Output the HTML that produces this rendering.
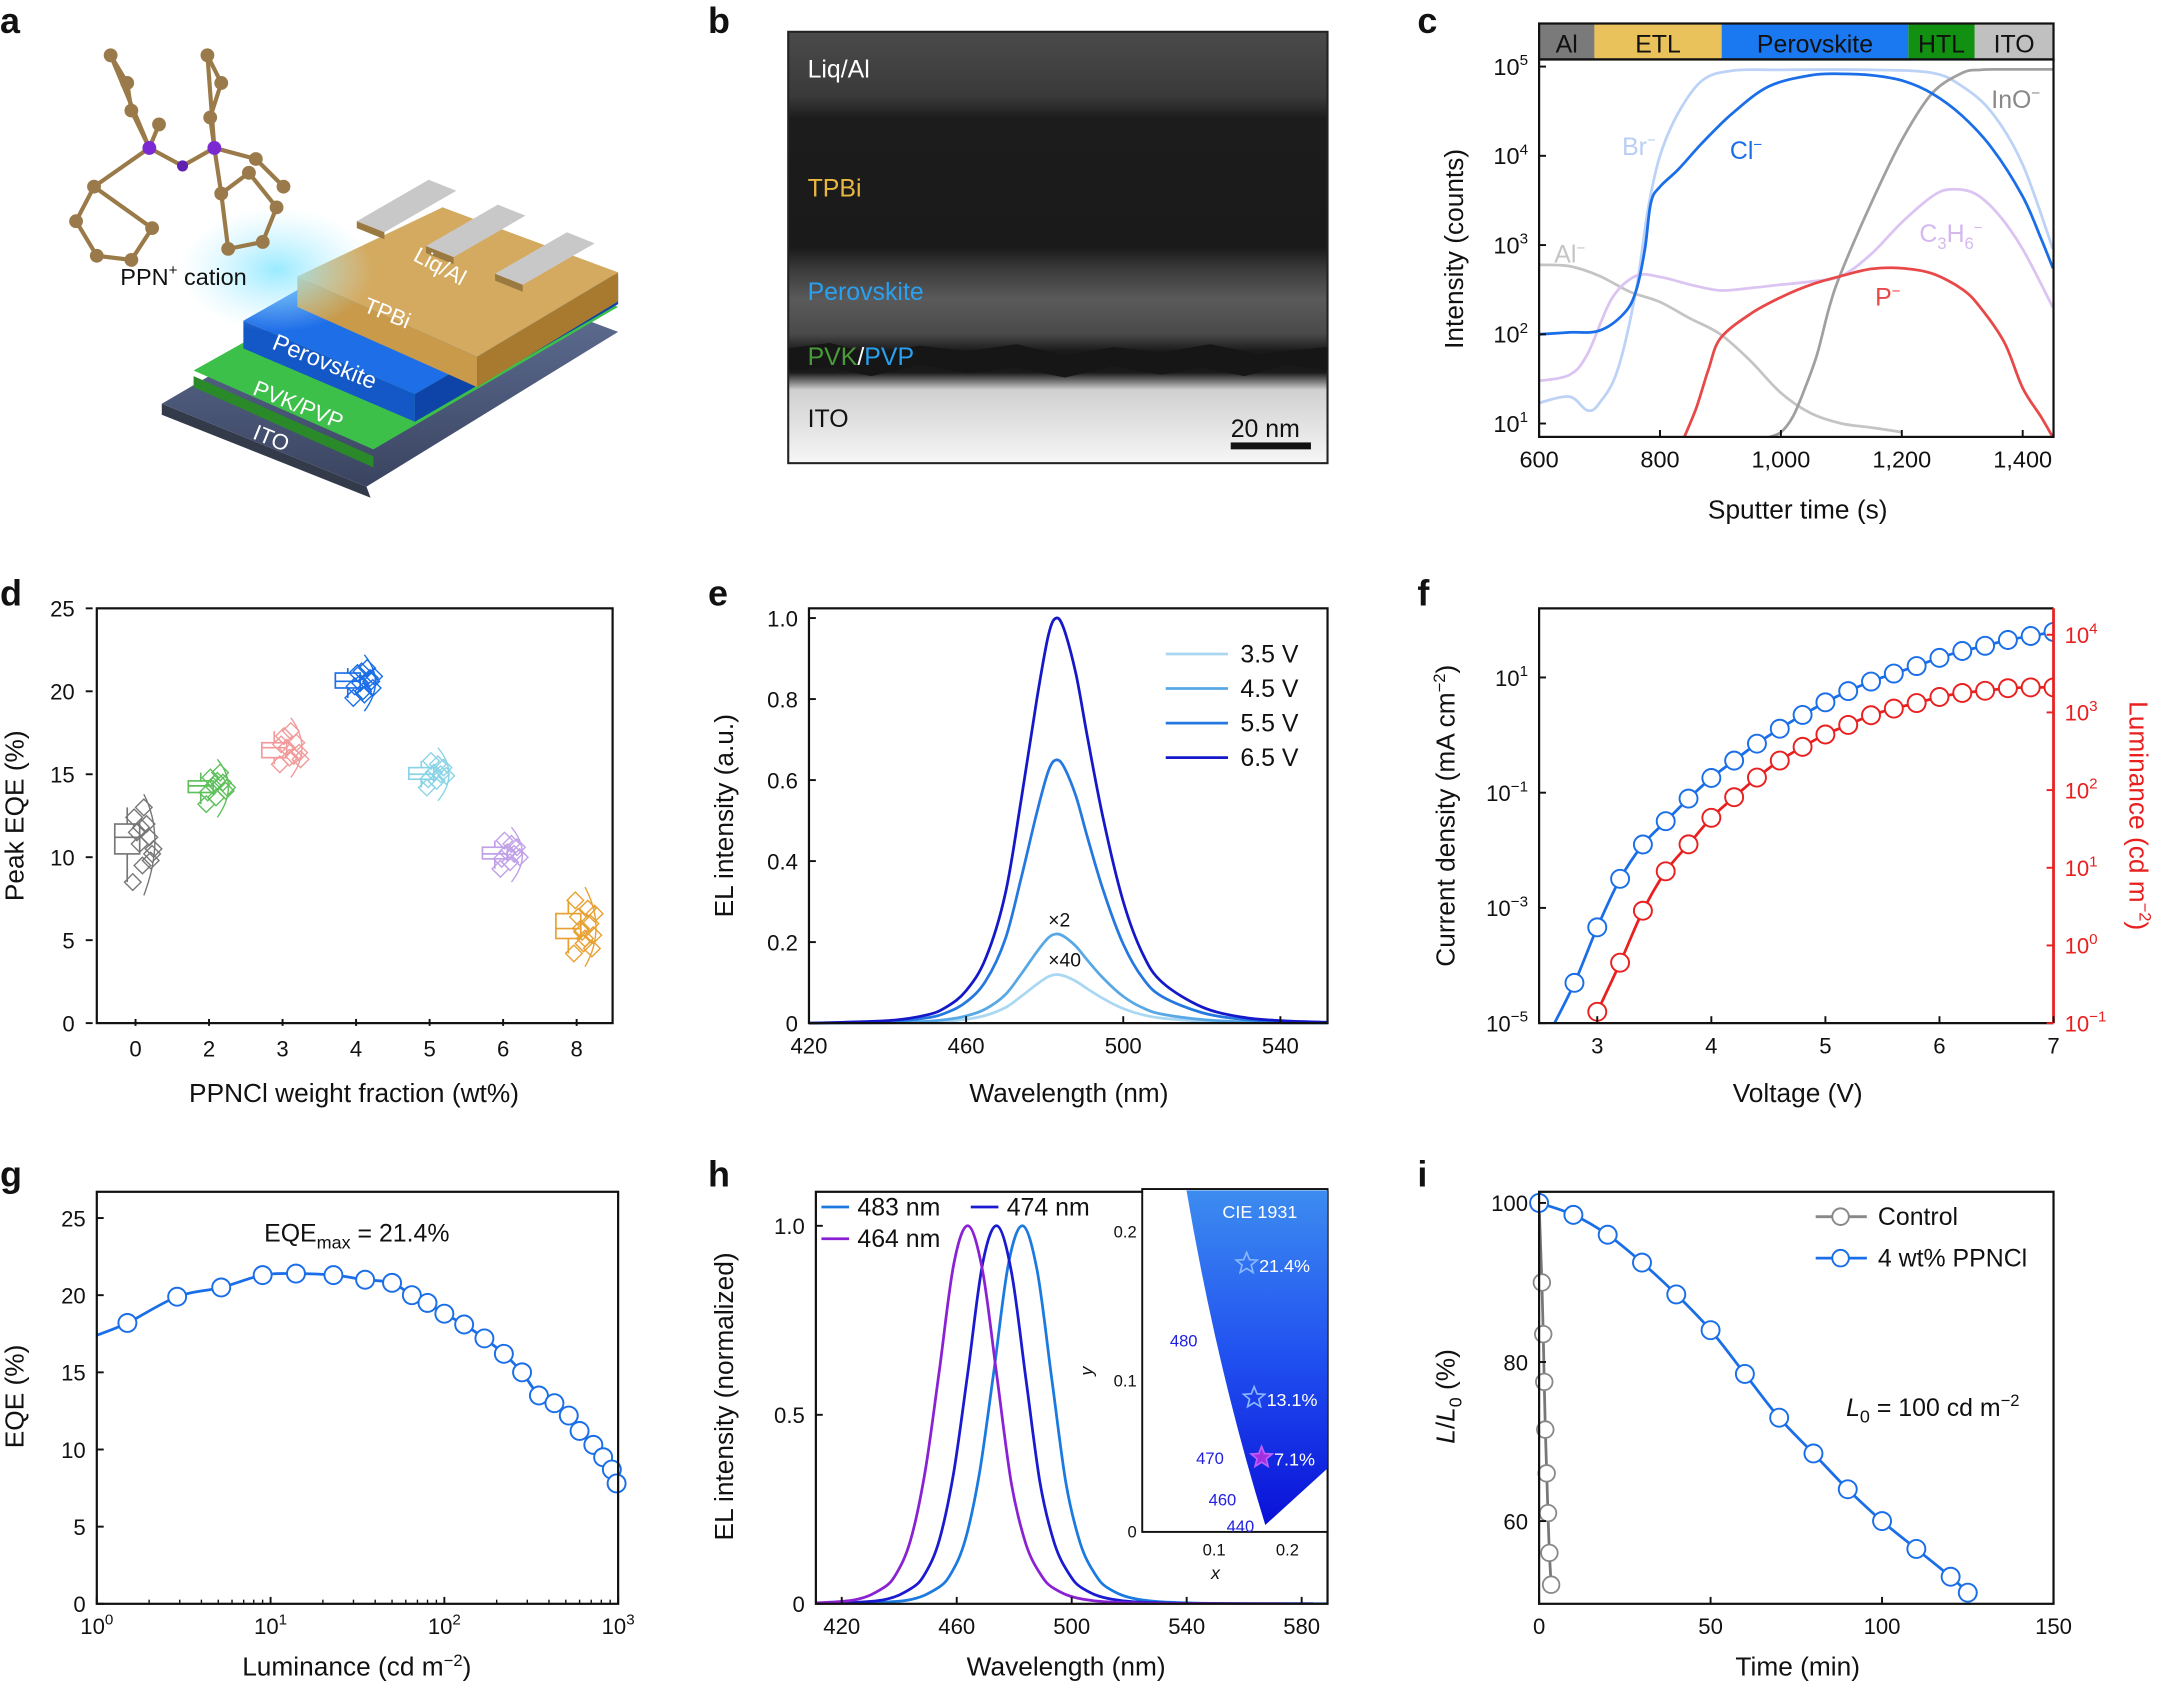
<!DOCTYPE html>
<html><head><meta charset="utf-8"><style>
html,body{margin:0;padding:0;background:#fff}
svg{display:block}
text{font-family:"Liberation Sans",sans-serif}
</style></head><body>
<svg id="fig" xmlns="http://www.w3.org/2000/svg" width="2160" height="1684" viewBox="0 0 1562 1218" preserveAspectRatio="none">
<defs>
<linearGradient id="itoG" x1="0" y1="0" x2="0" y2="1"><stop offset="0" stop-color="#6878a0"/><stop offset="1" stop-color="#3a4460"/></linearGradient>
<linearGradient id="temG" x1="0" y1="0" x2="0" y2="1">
<stop offset="0" stop-color="#4a4a4a"/><stop offset="0.15" stop-color="#3a3a3a"/><stop offset="0.2" stop-color="#1c1c1c"/><stop offset="0.5" stop-color="#1a1a1a"/><stop offset="0.55" stop-color="#3a3a3a"/><stop offset="0.62" stop-color="#5a5a5a"/><stop offset="0.7" stop-color="#4a4a4a"/><stop offset="0.74" stop-color="#1a1a1a"/><stop offset="0.79" stop-color="#1a1a1a"/><stop offset="0.83" stop-color="#d0d0d0"/><stop offset="1" stop-color="#f6f6f6"/></linearGradient>
<linearGradient id="cieG" x1="0" y1="0" x2="0" y2="1"><stop offset="0" stop-color="#3d8cf0"/><stop offset="0.5" stop-color="#2050f0"/><stop offset="1" stop-color="#0a10d8"/></linearGradient>
<radialGradient id="glow" cx="0.5" cy="0.5" r="0.5"><stop offset="0" stop-color="#8ee8ff" stop-opacity="0.9"/><stop offset="1" stop-color="#bff0ff" stop-opacity="0"/></radialGradient>
</defs>
</svg>
<script>
const NS='http://www.w3.org/2000/svg';
const svg=document.getElementById('fig');
function mk(tag,a,p){const e=document.createElementNS(NS,tag);for(const k in a)e.setAttribute(k,a[k]);(p||svg).appendChild(e);return e;}
function nm(e,n,i){


return e;}
function T(x,y,s,o,name){o=o||{};const e=mk('text',Object.assign({x:x,y:y,'font-size':16,fill:'#111'},o));e.innerHTML=s;nm(e,name||'label');return e;}
function lin(d0,d1,r0,r1){return v=>r0+(v-d0)/(d1-d0)*(r1-r0);}
function lg(d0,d1,r0,r1){return v=>r0+(Math.log10(v)-Math.log10(d0))/(Math.log10(d1)-Math.log10(d0))*(r1-r0);}
function frame(x0,y0,x1,y1,name){const r=mk('rect',{x:x0,y:y0,width:x1-x0,height:y1-y0,fill:'none',stroke:'#111','stroke-width':1.6});nm(r,name);}
function xt(sx,vals,labs,y,name,fs){vals.forEach((v,i)=>{const l=mk('line',{x1:sx(v),x2:sx(v),y1:y,y2:y-5,stroke:'#111','stroke-width':1.4});nm(l,name+'-tick');T(sx(v),y+22,labs[i],{'text-anchor':'middle','font-size':fs||16},name+'-label');});}
function yt(sy,vals,labs,x,name,fs,right){vals.forEach((v,i)=>{const l=mk('line',{x1:x,x2:right?x-5:x+5,y1:sy(v),y2:sy(v),stroke:'#111','stroke-width':1.4});nm(l,name+'-tick');T(right?x+8:x-8,sy(v)+6,labs[i],{'text-anchor':right?'start':'end','font-size':fs||16},name+'-label');});}
function path(xs,ys,sx,sy,o,name,smooth){
 const P=xs.map((v,i)=>[sx(v),sy(ys[i])]);let d='M'+P[0][0].toFixed(1)+','+P[0][1].toFixed(1);
 for(let i=1;i<P.length;i++){
  if(smooth){const p0=P[Math.max(0,i-2)],p1=P[i-1],p2=P[i],p3=P[Math.min(P.length-1,i+1)];
   const c1=[p1[0]+(p2[0]-p0[0])/6,p1[1]+(p2[1]-p0[1])/6],c2=[p2[0]-(p3[0]-p1[0])/6,p2[1]-(p3[1]-p1[1])/6];
   d+='C'+c1[0].toFixed(1)+','+c1[1].toFixed(1)+' '+c2[0].toFixed(1)+','+c2[1].toFixed(1)+' '+p2[0].toFixed(1)+','+p2[1].toFixed(1);}
  else d+='L'+P[i][0].toFixed(1)+','+P[i][1].toFixed(1);}
 const p=mk('path',Object.assign({d:d,fill:'none','stroke-width':2},o));nm(p,name);return p;}
function letter(x,y,s){T(x,y,s,{'font-size':26,'font-weight':'bold'},'panel-letter-'+s);}
function sup(b,e){return b+'<tspan dy="-7" font-size="11">'+e+'</tspan>';}
</script>
<script>
letter(0,24,'a');
(function(){
const g=mk('g',{});nm(g,'device-schematic');
function poly(pts,fill,n){const p=mk('polygon',{points:pts,fill:fill},g);nm(p,n);}
poly('117,292 265,352 268,360 117,300','#333a4a','ito-side');
poly('117,292 265,352 447,240 300,185','url(#itoG)','ito-layer');
poly('140,272 270,330 270,338 140,280','#2a8a2a','pvk-side');
poly('140,268 270,325 447,222 315,170','#3cc04a','pvk-pvp-layer');
poly('176,232 300,285 300,305 176,252','#1458c8','perovskite-side');
poly('300,285 447,200 447,220 300,305','#0e44a8','perovskite-front');
poly('176,232 300,285 447,200 320,150','#1e6ee8','perovskite-layer');
poly('215,200 345,258 345,280 215,222','#c89a4a','tpbi-side');
poly('345,258 447,197 447,218 345,280','#a87a30','tpbi-front');
poly('215,200 345,258 447,197 320,150','#d4aa60','tpbi-layer');
[[258,160],[308,178],[358,198]].forEach((c,i)=>{
 poly((c[0])+','+(c[1])+' '+(c[0]+20)+','+(c[1]+8)+' '+(c[0]+72)+','+(c[1]-22)+' '+(c[0]+52)+','+(c[1]-30),'#c8c8c8','electrode-top-'+i);
 poly((c[0])+','+(c[1])+' '+(c[0]+20)+','+(c[1]+8)+' '+(c[0]+20)+','+(c[1]+13)+' '+(c[0])+','+(c[1]+5),'#9a7a40','electrode-side-'+i);
});
const gl=mk('ellipse',{cx:200,cy:195,rx:70,ry:45,fill:'url(#glow)'},g);nm(gl,'emission-glow');
T(298,188,'Liq/Al',{fill:'#fff','font-size':16,transform:'rotate(28 298 188)'},'label-liq-al');
T(262,225,'TPBi',{fill:'#fff','font-size':16,transform:'rotate(22 262 225)'},'label-tpbi');
T(196,252,'Perovskite',{fill:'#fff','font-size':17,transform:'rotate(22 196 252)'},'label-perovskite');
T(182,285,'PVK/PVP',{fill:'#fff','font-size':16,transform:'rotate(22 182 285)'},'label-pvk');
T(182,317,'ITO',{fill:'#fff','font-size':16,transform:'rotate(22 182 317)'},'label-ito');
T(87,206,'PPN<tspan dy="-7" font-size="11">+</tspan><tspan dy="7"> cation</tspan>',{'font-size':17},'label-ppn-cation');
const atoms=[[108,107],[155,107],[132,120],[80,40],[92,60],[95,80],[150,40],[160,60],[152,85],[68,135],[55,160],[70,185],[95,188],[110,165],[160,140],[180,125],[200,150],[190,175],[165,180],[115,90],[185,115],[205,135]];
const bonds=[[0,2],[1,2],[0,3],[3,4],[4,5],[5,0],[1,6],[6,7],[7,8],[8,1],[0,9],[9,10],[10,11],[11,12],[12,13],[13,9],[1,14],[14,15],[15,16],[16,17],[17,18],[18,14],[0,19],[1,20],[20,21]];
bonds.forEach(b=>{const l=mk('line',{x1:atoms[b[0]][0],y1:atoms[b[0]][1],x2:atoms[b[1]][0],y2:atoms[b[1]][1],stroke:'#9a7a48','stroke-width':3},g);nm(l,'molecule-bond');});
atoms.forEach((a,i)=>{const c=mk('circle',{cx:a[0],cy:a[1],r:i<2?5:(i==2?4:5),fill:i<2?'#7a2ad0':(i==2?'#6020b0':'#9a7a4a')},g);nm(c,'molecule-atom');});
})();

letter(512,24,'b');
(function(){
const r=mk('rect',{x:570,y:23,width:390,height:312,fill:'url(#temG)',stroke:'#222','stroke-width':1.5});nm(r,'tem-image');
const w=mk('path',{d:'M570,252 L600,248 L630,256 L665,250 L700,254 L735,249 L770,257 L805,251 L840,255 L875,249 L910,256 L960,251 L960,268 L930,264 L900,272 L870,266 L840,271 L805,265 L770,273 L735,266 L700,270 L665,264 L630,272 L600,266 L570,268Z',fill:'#161616'});nm(w,'tem-interface');
T(584,56,'Liq/Al',{fill:'#fff','font-size':18},'tem-label-liq-al');
T(584,142,'TPBi',{fill:'#e8b840','font-size':18},'tem-label-tpbi');
T(584,217,'Perovskite',{fill:'#2aa0f0','font-size':18},'tem-label-perovskite');
T(584,264,'<tspan fill="#4a9a3a">PVK</tspan><tspan fill="#fff">/</tspan><tspan fill="#2aa0f0">PVP</tspan>',{'font-size':18},'tem-label-pvk-pvp');
T(584,309,'ITO',{fill:'#111','font-size':18},'tem-label-ito');
T(890,316,'20 nm',{fill:'#111','font-size':18},'scale-bar-label');
const sb=mk('rect',{x:890,y:320,width:58,height:5,fill:'#111'});nm(sb,'scale-bar');
})();
</script>
<script>
const cTimeCl=[600,650,700,740,760,775,785,800,830,870,920,980,1050,1100,1150,1200,1250,1300,1350,1400,1430,1450];
const cCl=[100,105,110,170,300,900,3000,4500,7000,14000,30000,60000,80000,83000,80000,70000,50000,28000,12000,3500,1200,550];
const cTimeBr=[600,650,680,700,730,760,780,800,830,870,920,1000,1150,1250,1300,1350,1400,1450];
const cBr=[17,20,14,17,40,300,2500,10000,30000,70000,90000,92000,92000,85000,60000,30000,8000,900];
const cTimeAl=[600,650,700,750,800,850,900,950,1000,1050,1100,1150,1200];
const cAl=[600,580,450,300,230,150,100,50,22,13,10,9,8];
const cTimeC=[600,650,680,720,760,800,850,900,950,1000,1050,1100,1150,1200,1250,1280,1320,1360,1400,1450];
const cC=[30,35,60,250,450,440,360,310,330,360,390,450,800,1800,3500,4200,3800,2200,900,200];
const cTimeP=[840,860,880,900,950,1000,1050,1100,1150,1200,1250,1300,1330,1370,1400,1430,1450];
const cP=[7,15,40,90,170,260,360,450,540,550,480,320,200,80,25,12,7];
const cTimeIn=[980,1000,1020,1040,1060,1080,1100,1150,1200,1250,1300,1330,1360,1400,1450];
const cIn=[7,8,12,25,60,200,500,3000,15000,50000,85000,92000,93000,93000,93000];
(function(){
letter(1025,24,'c');
const x0=1113,x1=1485,y0=43,y1=316;
const sx=lin(600,1451,x0,x1), sy=lg(Math.pow(10,0.85),Math.pow(10,5.08),y1,y0);
const bands=[['Al',1113,1153,'#7a7a7a'],['ETL',1153,1245,'#eac25c'],['Perovskite',1245,1380,'#1a78f0'],['HTL',1380,1428,'#129012'],['ITO',1428,1485,'#c0c0c0']];
bands.forEach(b=>{const r=mk('rect',{x:b[1],y:17,width:b[2]-b[1],height:26,fill:b[3]});nm(r,'layer-band-'+b[0].toLowerCase());T((b[1]+b[2])/2,38,b[0],{'text-anchor':'middle','font-size':18},'layer-band-label');});
const br=mk('rect',{x:1113,y:17,width:372,height:26,fill:'none',stroke:'#111','stroke-width':1.6});nm(br,'layer-band-frame');
const clip=mk('clipPath',{id:'clipC'});mk('rect',{x:x0,y:y0,width:x1-x0,height:y1-y0},clip);
const g=mk('g',{'clip-path':'url(#clipC)'});nm(g,'sims-series');
[[cTimeBr,cBr,'#bcd2f6','series-br'],[cTimeAl,cAl,'#c4c4c4','series-al'],[cTimeC,cC,'#dcc4f2','series-c3h6'],[cTimeIn,cIn,'#a0a0a0','series-ino'],[cTimeP,cP,'#e84848','series-p'],[cTimeCl,cCl,'#1a6ee8','series-cl']].forEach(s=>{g.appendChild(path(s[0],s[1],sx,sy,{stroke:s[2]},s[3],true));});
frame(x0,y0,x1,y1,'sims-plot-frame');
xt(sx,[600,800,1000,1200,1400],['600','800','1,000','1,200','1,400'],y1,'sims-x',17);
yt(sy,[10,100,1000,10000,100000],[sup('10','1'),sup('10','2'),sup('10','3'),sup('10','4'),sup('10','5')],x0,'sims-y',17);
T(1300,375,'Sputter time (s)',{'text-anchor':'middle','font-size':19},'sims-x-title');
T(1058,180,'Intensity (counts)',{'text-anchor':'middle','font-size':19,transform:'rotate(-90 1058 180)'},'sims-y-title');
T(1173,112,'Br<tspan dy="-7" font-size="11">−</tspan>',{fill:'#b8cef4','font-size':18},'label-br');
T(1251,115,'Cl<tspan dy="-7" font-size="11">−</tspan>',{fill:'#1a6ee8','font-size':18},'label-cl');
T(1124,190,'Al<tspan dy="-7" font-size="11">−</tspan>',{fill:'#c4c4c4','font-size':18},'label-al');
T(1440,78,'InO<tspan dy="-7" font-size="11">−</tspan>',{fill:'#888','font-size':18},'label-ino');
T(1388,175,'C<tspan dy="5" font-size="12">3</tspan><tspan dy="-5">H</tspan><tspan dy="5" font-size="12">6</tspan><tspan dy="-12" font-size="11">−</tspan>',{fill:'#d4b8ee','font-size':18},'label-c3h6');
T(1356,221,'P<tspan dy="-7" font-size="11">−</tspan>',{fill:'#e84848','font-size':18},'label-p');
})();
</script>
<script>
const dCats=['0','2','3','4','5','6','8'];
const dColors=['#777','#5ec05a','#f29a9a','#1a6ee8','#88d4e6','#c0a0e8','#e8a030'];
const dValues=[
[8.5,9.5,10.2,10.8,11.2,11.5,12,12.4,13,10.5,11.8,9.8],
[13.2,13.6,14,14.3,14.5,14.8,15.1,13.9,14.6,14.2],
[15.6,16,16.3,16.6,16.9,17.3,16.1,16.8,17.6,15.9],
[19.6,20,20.2,20.5,20.8,21.1,21.4,20.3,19.8,20.9,21.2,20.6],
[14.2,14.6,14.9,15.1,15.4,15.8,15.0,14.7,15.6],
[9.3,9.7,10,10.3,10.6,11,10.2,9.9,10.8],
[4.2,4.8,5.3,5.7,6.0,6.4,6.9,7.4,5.1,6.6,5.5,4.5]];
(function(){
letter(0,438,'d');
const x0=70,x1=443,y0=440,y1=740;
const sx=lin(0,6,98,417), sy=lin(0,25,y1,y0+0);
dValues.forEach((vals,i)=>{
 const s=[...vals].sort((a,b)=>a-b);const q1=s[Math.floor(s.length*0.25)],q3=s[Math.floor(s.length*0.75)],md=s[Math.floor(s.length/2)],mn=s[0],mx=s[s.length-1];
 const cx=sx(i)-6,col=dColors[i];
 const wl=mk('line',{x1:cx,x2:cx,y1:sy(mn),y2:sy(mx),stroke:col,'stroke-width':1.2});nm(wl,'whisker-'+dCats[i]);
 const bx=mk('rect',{x:cx-9,y:sy(q3),width:18,height:sy(q1)-sy(q3),fill:'#fff',stroke:col,'stroke-width':1.2});nm(bx,'box-'+dCats[i]);
 const ml=mk('line',{x1:cx-9,x2:cx+9,y1:sy(md),y2:sy(md),stroke:col,'stroke-width':1.2});nm(ml,'median-'+dCats[i]);
 const dist=mk('path',{d:'M'+(sx(i)+6)+','+sy(mn-0.8)+' Q'+(sx(i)+22)+','+sy(md)+' '+(sx(i)+6)+','+sy(mx+0.8),fill:'none',stroke:col,'stroke-width':1});nm(dist,'distribution-'+dCats[i]);
 vals.forEach((v,j)=>{const px=sx(i)+((j*7)%16)-2,py=sy(v);const d=mk('polygon',{points:(px)+','+(py-6)+' '+(px+6)+','+py+' '+px+','+(py+6)+' '+(px-6)+','+py,fill:'none',stroke:col,'stroke-width':1});nm(d,'eqe-point');});
});
frame(x0,y0,x1,y1,'eqe-stat-frame');
xt(sx,[0,1,2,3,4,5,6],dCats,y1+2,'wt-x',16);
yt(sy,[0,5,10,15,20,25],['0','5','10','15','20','25'],x0-8,'eqe-y',16,false);
T(256,797,'PPNCl weight fraction (wt%)',{'text-anchor':'middle','font-size':19},'wt-x-title');
T(17,590,'Peak EQE (%)',{'text-anchor':'middle','font-size':19,transform:'rotate(-90 17 590)'},'eqe-y-title');
})();
</script>
<script>
const eWl=[420,440,450,455,460,465,470,474,478,481,483,485,488,491,495,500,505,510,520,530,540,552];
const eShape=[0,0.006,0.02,0.04,0.08,0.16,0.32,0.55,0.8,0.96,1.0,0.97,0.86,0.7,0.5,0.3,0.17,0.1,0.04,0.015,0.006,0.002];
const eScale=[0.12,0.22,0.65,1.0];
const eLabels=['3.5 V','4.5 V','5.5 V','6.5 V'];
const eColors=['#aad8f2','#58a8e6','#2478e0','#1418c8'];
(function(){
letter(512,438,'e');
const x0=585,x1=960,y0=440,y1=740;
const sx=lin(420,552,x0,x1), sy=lin(0,1.024,y1,y0);
eScale.forEach((k,i)=>{path(eWl,eShape.map(v=>v*k),sx,sy,{stroke:eColors[i]},'el-spectrum-'+eLabels[i].replace(' ','').replace('.','p'),true);});
frame(x0,y0,x1,y1,'el-plot-frame');
xt(sx,[420,460,500,540],['420','460','500','540'],y1,'el-x',16);
yt(sy,[0,0.2,0.4,0.6,0.8,1.0],['0','0.2','0.4','0.6','0.8','1.0'],x0,'el-y',16);
T(758,670,'×2',{'font-size':14},'label-x2');
T(758,699,'×40',{'font-size':14},'label-x40');
eLabels.forEach((l,i)=>{const y=479+i*25;const ln=mk('line',{x1:843,x2:888,y1:y-6,y2:y-6,stroke:eColors[i],'stroke-width':2});nm(ln,'legend-line-'+i);T(897,y,l,{'font-size':18},'legend-entry');});
T(773,797,'Wavelength (nm)',{'text-anchor':'middle','font-size':19},'el-x-title');
T(530,590,'EL intensity (a.u.)',{'text-anchor':'middle','font-size':19,transform:'rotate(-90 530 590)'},'el-y-title');
})();
</script>
<script>
const fV=[2.8,3.0,3.2,3.4,3.6,3.8,4.0,4.2,4.4,4.6,4.8,5.0,5.2,5.4,5.6,5.8,6.0,6.2,6.4,6.6,6.8,7.0];
const fJ=[5e-5,4.6e-4,3.2e-3,1.26e-2,3.2e-2,7.9e-2,0.18,0.36,0.71,1.29,2.24,3.7,5.8,8.5,11.7,15.8,21.9,28.8,35.5,44.7,52.5,61.7];
const fLV=[3.0,3.2,3.4,3.6,3.8,4.0,4.2,4.4,4.6,4.8,5.0,5.2,5.4,5.6,5.8,6.0,6.2,6.4,6.6,6.8,7.0];
const fL=[0.14,0.6,2.8,9,20,44,81,145,240,360,520,690,920,1120,1320,1580,1780,1900,2050,2100,2100];
(function(){
letter(1025,438,'f');
const x0=1113,x1=1485,y0=440,y1=740;
const sx=lin(2.49,7,x0,x1);
const sy=lg(1e-5,Math.pow(10,2.2),y1,y0);
const sl=lg(0.1,Math.pow(10,4.34),y1,y0);
const clip=mk('clipPath',{id:'clipF'});mk('rect',{x:x0,y:y0,width:x1-x0,height:y1-y0},clip);
const g=mk('g',{'clip-path':'url(#clipF)'});nm(g,'jvl-series');
g.appendChild(path([2.6].concat(fV),[8e-6].concat(fJ),sx,sy,{stroke:'#1a6ee8'},'current-density-line',true));
g.appendChild(path(fLV,fL,sx,sl,{stroke:'#e82020'},'luminance-line',true));
fV.forEach((v,i)=>{const c=mk('circle',{cx:sx(v),cy:sy(fJ[i]),r:6.5,fill:'#fff',stroke:'#1a6ee8','stroke-width':1.4},g);nm(c,'current-density-point');});
fLV.forEach((v,i)=>{const c=mk('circle',{cx:sx(v),cy:sl(fL[i]),r:6.5,fill:'#fff',stroke:'#e82020','stroke-width':1.4},g);nm(c,'luminance-point');});
const fr=mk('path',{d:'M'+x1+','+y0+' L'+x0+','+y0+' L'+x0+','+y1+' L'+x1+','+y1,fill:'none',stroke:'#111','stroke-width':1.6});nm(fr,'jvl-frame');
const ra=mk('line',{x1:x1,x2:x1,y1:y0,y2:y1,stroke:'#e82020','stroke-width':2});nm(ra,'luminance-axis');
xt(sx,[3,4,5,6,7],['3','4','5','6','7'],y1,'voltage-x',16);
yt(sy,[1e-5,1e-3,1e-1,10],[sup('10','−5'),sup('10','−3'),sup('10','−1'),sup('10','1')],x0,'current-y',16);
[0.1,1,10,100,1000,10000].forEach((v,i)=>{const l=mk('line',{x1:x1,x2:x1-5,y1:sl(v),y2:sl(v),stroke:'#e82020','stroke-width':1.4});nm(l,'luminance-tick');T(x1+8,sl(v)+6,sup('10',['−1','0','1','2','3','4'][i]),{'font-size':16,fill:'#e82020'},'luminance-tick-label');});
T(1300,797,'Voltage (V)',{'text-anchor':'middle','font-size':19},'voltage-x-title');
T(1052,590,'Current density (mA cm<tspan dy="-7" font-size="12">−2</tspan><tspan dy="7">)</tspan>',{'text-anchor':'middle','font-size':19,transform:'rotate(-90 1052 590)'},'current-y-title');
T(1540,590,'Luminance (cd m<tspan dy="-7" font-size="12">−2</tspan><tspan dy="7">)</tspan>',{'text-anchor':'middle','font-size':19,fill:'#e82020',transform:'rotate(90 1540 590)'},'luminance-y-title');
})();
</script>
<script>
const gLum=[1.5,2.9,5.2,9,14,23,35,50,65,80,100,130,170,220,280,350,430,520,600,720,820,920,980];
const gEQE=[18.2,19.9,20.5,21.3,21.4,21.3,21.0,20.8,20.0,19.5,18.8,18.1,17.2,16.2,15.0,13.5,13.0,12.2,11.2,10.3,9.5,8.7,7.8];
(function(){
letter(0,858,'g');
const x0=70,x1=447,y0=862,y1=1160;
const sx=lg(1,1000,x0,x1), sy=lin(0,26.7,y1,y0);
path([1].concat(gLum).concat([1000]),[17.4].concat(gEQE).concat([7.2]),sx,sy,{stroke:'#1a6ee8'},'eqe-luminance-line',true);
gLum.forEach((v,i)=>{const c=mk('circle',{cx:sx(v),cy:sy(gEQE[i]),r:6.5,fill:'#fff',stroke:'#1a6ee8','stroke-width':1.4});nm(c,'eqe-luminance-point');});
frame(x0,y0,x1,y1,'eqe-lum-frame');
xt(sx,[1,10,100,1000],[sup('10','0'),sup('10','1'),sup('10','2'),sup('10','3')],y1,'lum-x',16);
[2,3,4,5,6,7,8,9,20,30,40,50,60,70,80,90,200,300,400,500,600,700,800,900].forEach(v=>{const l=mk('line',{x1:sx(v),x2:sx(v),y1:y1,y2:y1-3,stroke:'#111','stroke-width':1});nm(l,'lum-minor-tick');});
yt(sy,[0,5,10,15,20,25],['0','5','10','15','20','25'],x0,'eqe-g-y',16);
T(191,898,'EQE<tspan dy="5" font-size="13">max</tspan><tspan dy="-5"> = 21.4%</tspan>',{'font-size':18},'eqe-max-label');
T(258,1212,'Luminance (cd m<tspan dy="-7" font-size="12">−2</tspan><tspan dy="7">)</tspan>',{'text-anchor':'middle','font-size':19},'lum-x-title');
T(17,1010,'EQE (%)',{'text-anchor':'middle','font-size':19,transform:'rotate(-90 17 1010)'},'eqe-g-y-title');
})();
</script>
<script>
const hOffset=[-60,-40,-30,-25,-20,-15,-10,-5,0,5,10,15,20,25,30,40,60,110];
const hShape=[0,0.01,0.04,0.08,0.17,0.35,0.62,0.9,1,0.88,0.6,0.32,0.16,0.08,0.04,0.012,0.002,0];
const hPeaks=[483,474,464];
const hLabels=['483 nm','474 nm','464 nm'];
const hColors=['#1a7ae0','#1a1ad0','#8a22d4'];
const hCIEx=[0.13,0.14,0.15];
const hCIEy=[0.18,0.09,0.05];
const hEQE=['21.4%','13.1%','7.1%'];
(function(){
letter(512,858,'h');
const x0=590,x1=960,y0=862,y1=1160;
const sx=lin(411,589,x0,x1), sy=lin(0,1.09,y1,y0);
const clip=mk('clipPath',{id:'clipH'});mk('rect',{x:x0,y:y0,width:x1-x0,height:y1-y0},clip);
const g=mk('g',{'clip-path':'url(#clipH)'});nm(g,'norm-spectra');
hPeaks.forEach((p,i)=>{g.appendChild(path(hOffset.map(o=>p+o),hShape,sx,sy,{stroke:hColors[i]},'norm-spectrum-'+p,true));});
frame(x0,y0,x1,y1,'norm-plot-frame');
xt(sx,[420,460,500,540,580],['420','460','500','540','580'],y1,'norm-x',16);
yt(sy,[0,0.5,1.0],['0','0.5','1.0'],x0,'norm-y',16);
[[0,594,879],[1,702,879],[2,594,902]].forEach(l=>{const ln=mk('line',{x1:l[1],x2:l[1]+20,y1:l[2]-6,y2:l[2]-6,stroke:hColors[l[0]],'stroke-width':2});nm(ln,'legend-line');T(l[1]+26,l[2],hLabels[l[0]],{'font-size':18},'legend-entry');});
const ix0=826,ix1=960,iy0=860,iy1=1108;
const isx=lin(0,0.26,ix0+5,ix1+12), isy=lin(0,0.23,iy1,iy0);
const ib=mk('rect',{x:ix0,y:iy0,width:ix1-ix0,height:iy1-iy0,fill:'#fff',stroke:'#111','stroke-width':1.4});nm(ib,'cie-inset');
const cf=mk('path',{d:'M858,861 L960,861 L960,1062 L915,1103 Q880,990 858,861Z',fill:'url(#cieG)'});nm(cf,'cie-gamut');
T(884,881,'CIE 1931',{'font-size':13,fill:'#fff'},'cie-title');
hCIEx.forEach((v,i)=>{const cx=isx(v),cy=isy(hCIEy[i]);let pts='';for(let k=0;k<10;k++){const r=k%2?3.5:8,a=-Math.PI/2+k*Math.PI/5;pts+=(cx+r*Math.cos(a)).toFixed(1)+','+(cy+r*Math.sin(a)).toFixed(1)+' ';}const s=mk('polygon',{points:pts,fill:i==2?'#a030e0':'none',stroke:i==2?'#c060ff':'#8ab8ff','stroke-width':1.2});nm(s,'cie-star');T(cx+9,cy+6,hEQE[i],{'font-size':13,fill:'#fff'},'cie-eqe-label');});
T(846,974,'480',{'font-size':12,fill:'#2020e0'},'cie-wl-480');
T(865,1059,'470',{'font-size':12,fill:'#2020e0'},'cie-wl-470');
T(874,1089,'460',{'font-size':12,fill:'#2020e0'},'cie-wl-460');
T(887,1108,'440',{'font-size':12,fill:'#2020e0'},'cie-wl-440');
T(822,895,'0.2',{'font-size':12,'text-anchor':'end'},'cie-y-tick');
T(822,1003,'0.1',{'font-size':12,'text-anchor':'end'},'cie-y-tick');
T(822,1112,'0',{'font-size':12,'text-anchor':'end'},'cie-y-tick');
T(878,1125,'0.1',{'font-size':12,'text-anchor':'middle'},'cie-x-tick');
T(931,1125,'0.2',{'font-size':12,'text-anchor':'middle'},'cie-x-tick');
T(879,1142,'x',{'font-size':13,'font-style':'italic','text-anchor':'middle'},'cie-x-title');
T(790,995,'y',{'font-size':13,'font-style':'italic',transform:'rotate(-90 790 995)'},'cie-y-title');
T(771,1212,'Wavelength (nm)',{'text-anchor':'middle','font-size':19},'norm-x-title');
T(530,1010,'EL intensity (normalized)',{'text-anchor':'middle','font-size':19,transform:'rotate(-90 530 1010)'},'norm-y-title');
})();
</script>
<script>
const iTimeP=[0,10,20,30,40,50,60,70,80,90,100,110,120,125];
const iLP=[100,98.5,96,92.5,88.5,84,78.5,73,68.5,64,60,56.5,53,51];
const iTimeC=[0,0.8,1.2,1.5,1.8,2.2,2.6,3,3.5];
const iLC=[100,90,83.5,77.5,71.5,66,61,56,52];
(function(){
letter(1025,858,'i');
const x0=1113,x1=1485,y0=862,y1=1160;
const sx=lin(0,150,x0,x1), sy=lin(49.6,101.4,y1,y0);
path(iTimeC,iLC,sx,sy,{stroke:'#777'},'control-line');
iTimeC.forEach((v,i)=>{const c=mk('circle',{cx:sx(v),cy:sy(iLC[i]),r:6,fill:'#fff',stroke:'#888','stroke-width':1.3});nm(c,'control-point');});
path(iTimeP,iLP,sx,sy,{stroke:'#1a6ee8'},'ppncl-line',true);
iTimeP.forEach((v,i)=>{const c=mk('circle',{cx:sx(v),cy:sy(iLP[i]),r:6.5,fill:'#fff',stroke:'#1a6ee8','stroke-width':1.4});nm(c,'ppncl-point');});
frame(x0,y0,x1,y1,'lifetime-frame');
xt(sx,[0,50,100,150],['0','50','100','150'],y1,'time-x',16);
yt(sy,[60,80,100],['60','80','100'],x0,'lt-y',16);
[['#888','Control',886],['#1a6ee8','4 wt% PPNCl',916]].forEach((l,k)=>{const ln=mk('line',{x1:1313,x2:1350,y1:l[2]-6,y2:l[2]-6,stroke:l[0],'stroke-width':2});nm(ln,'legend-line');const c=mk('circle',{cx:1331,cy:l[2]-6,r:6,fill:'#fff',stroke:l[0],'stroke-width':1.4});nm(c,'legend-marker');T(1358,l[2],l[1],{'font-size':18},'legend-entry');});
T(1335,1024,'<tspan font-style="italic">L</tspan><tspan dy="5" font-size="13">0</tspan><tspan dy="-5"> = 100 cd m</tspan><tspan dy="-7" font-size="12">−2</tspan>',{'font-size':18},'l0-label');
T(1300,1212,'Time (min)',{'text-anchor':'middle','font-size':19},'time-x-title');
T(1052,1010,'<tspan font-style="italic">L</tspan>/<tspan font-style="italic">L</tspan><tspan dy="5" font-size="13">0</tspan><tspan dy="-5"> (%)</tspan>',{'text-anchor':'middle','font-size':19,transform:'rotate(-90 1052 1010)'},'lt-y-title');
})();
</script>
</body></html>
